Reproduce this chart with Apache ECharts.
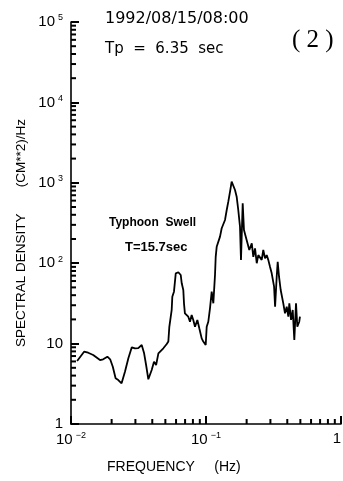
<!DOCTYPE html>
<html>
<head>
<meta charset="utf-8">
<script src="https://cdn.jsdelivr.net/npm/echarts@6/dist/echarts.min.js"></script>
<style>
  html, body { margin: 0; padding: 0; background: #fff; }
  #chart { width: 343px; height: 481px; }
</style>
</head>
<body>
<div id="chart"></div>
<script>
// Wave spectrum: frequency (Hz) and spectral density (cm^2/Hz)
const freq = [
  0.0111, 0.0125, 0.0134, 0.0146, 0.0164, 0.0173, 0.0186, 0.0195, 0.0204, 0.0214,
  0.0224, 0.0237, 0.0251, 0.0266, 0.0282, 0.0298, 0.0315, 0.0334, 0.0348, 0.0360,
  0.0374, 0.0396, 0.0412, 0.0427, 0.0444, 0.0483, 0.0512, 0.0526, 0.0535, 0.0557,
  0.0563, 0.0579, 0.0597, 0.0624, 0.0650, 0.0661, 0.0679, 0.0687, 0.0698, 0.0739,
  0.0761, 0.0783, 0.0805, 0.0829, 0.0863, 0.0892, 0.0929, 0.0955, 0.0995, 0.1012,
  0.1040, 0.1071, 0.1102, 0.1133, 0.1166, 0.1180, 0.1200, 0.1270, 0.1307, 0.1343,
  0.1383, 0.1424, 0.1463, 0.1507, 0.1549, 0.1592, 0.1640, 0.1687, 0.1734, 0.1786,
  0.1816, 0.1870, 0.1911, 0.2000, 0.2093, 0.2183, 0.2241, 0.2308, 0.2376, 0.2440,
  0.2512, 0.2586, 0.2657, 0.2736, 0.2816, 0.2893, 0.2979, 0.3067, 0.3194, 0.3249,
  0.3340, 0.3397, 0.3475, 0.3575, 0.3737, 0.3848, 0.3962, 0.4073, 0.4142, 0.4266,
  0.4389, 0.4511, 0.4642, 0.4747, 0.4906, 0.4966
];
const density = [
  6.08, 7.93, 7.70, 7.21, 6.25, 6.38, 6.87, 6.38, 5.16, 3.70,
  3.52, 3.21, 4.47, 6.56, 9.00, 8.74, 8.80, 9.61, 7.57, 5.42,
  3.60, 4.69, 5.95, 5.42, 7.57, 8.74, 9.89, 10.6, 16.2, 26.2,
  38.3, 44.2, 74.9, 77.1, 71.3, 56.2, 46.4, 31.7, 23.8, 21.6,
  18.7, 22.7, 19.7, 16.2, 19.7, 15.5, 11.6, 10.6, 9.61, 16.2,
  18.7, 27.7, 44.2, 31.7, 71.3, 120, 160, 214, 272, 259,
  345, 459, 582, 775, 1032, 986, 814, 672, 459, 284,
  110, 556, 259, 194, 146, 177, 120, 153, 99.8, 126,
  133, 110, 146, 115, 126, 110, 90.5, 74.9, 51.0, 28.8,
  67.9, 104, 67.9, 46.4, 31.7, 23.8, 28.8, 21.6, 31.7, 19.7,
  26.2, 11.1, 31.7, 16.2, 18.7, 21.6
];

// Axis ranges (one decade per labelled tick)
const xRange = [0.01, 1];
const yRange = [1, 100000];

const FONT = '"Liberation Sans", Arial, sans-serif';

function powerLabel(v) {
  const e = Math.round(Math.log10(v));
  if (e === 0) return '1';
  if (e === 1) return '10';
  const exp = e < 0 ? '\u2212' + (-e) : String(e);
  return '{b|10}{s|' + exp + '}';
}

const richLabel = {
  b: { fontSize: 15, fontFamily: FONT, color: '#000' },
  s: { fontSize: 9, fontFamily: FONT, color: '#000', padding: [0, 0, 8, 3] }
};

function tickStyle() {
  return { show: true, inside: true, length: 8, lineStyle: { color: '#000', width: 2 } };
}

const chart = echarts.init(document.getElementById('chart'));

chart.setOption({
  backgroundColor: '#fff',
  animation: false,
  grid: { left: 71, right: 2, top: 22, bottom: 57, outerBoundsMode: 'none' },
  xAxis: {
    type: 'log',
    logBase: 10,
    min: xRange[0],
    max: xRange[1],
    axisLine: { show: true, lineStyle: { color: '#000', width: 1.6 } },
    axisTick: tickStyle(),
    splitLine: { show: false },
    axisLabel: {
      formatter: powerLabel,
      rich: richLabel,
      fontSize: 15,
      fontFamily: FONT,
      color: '#000',
      margin: 7,
      alignMaxLabel: 'right'
    }
  },
  yAxis: {
    type: 'log',
    logBase: 10,
    min: yRange[0],
    max: yRange[1],
    axisLine: { show: true, lineStyle: { color: '#000', width: 1.6 } },
    axisTick: tickStyle(),
    splitLine: { show: false },
    axisLabel: {
      formatter: powerLabel,
      rich: richLabel,
      fontSize: 15,
      fontFamily: FONT,
      color: '#000',
      margin: 8
    }
  },
  series: [{
    type: 'line',
    data: freq.map((f, i) => [f, density[i]]),
    showSymbol: false,
    lineStyle: { color: '#000', width: 1.8 },
    z: 3
  }]
});

// Minor ticks at 2..9 within each decade, placed through the grid's scales
function minorTicks() {
  const els = [];
  const origin = chart.convertToPixel({ gridIndex: 0 }, [xRange[0], yRange[0]]);
  for (let e = -2; e < 0; e++) {
    for (let k = 2; k <= 9; k++) {
      const p = chart.convertToPixel({ gridIndex: 0 }, [k * Math.pow(10, e), yRange[0]]);
      els.push({ type: 'line', shape: { x1: p[0], y1: origin[1], x2: p[0], y2: origin[1] - 5 },
        style: { stroke: '#000', lineWidth: 2 }, z: 10 });
    }
  }
  for (let e = 0; e < 5; e++) {
    for (let k = 2; k <= 9; k++) {
      const p = chart.convertToPixel({ gridIndex: 0 }, [xRange[0], k * Math.pow(10, e)]);
      els.push({ type: 'line', shape: { x1: origin[0], y1: p[1], x2: origin[0] + 5, y2: p[1] },
        style: { stroke: '#000', lineWidth: 2 }, z: 10 });
    }
  }
  return els;
}

const texts = [
  { type: 'text', left: 105, top: 11, style: { text: '1992/08/15/08:00', font: '16px "DejaVu Sans", sans-serif', fill: '#000' } },
  { type: 'text', left: 105, top: 42, style: { text: 'Tp  =  6.35  sec', font: '15px "DejaVu Sans", sans-serif', fill: '#000' } },
  { type: 'text', left: 292, top: 28, style: { text: '( 2 )', font: '25px "Liberation Serif", serif', fill: '#000' } },
  { type: 'text', left: 109, top: 217, style: { text: 'Typhoon  Swell', font: 'bold 12px "Liberation Sans", Arial, sans-serif', fill: '#000' } },
  { type: 'text', left: 125, top: 241, style: { text: 'T=15.7sec', font: 'bold 13px "Liberation Sans", Arial, sans-serif', fill: '#000' } },
  { type: 'text', left: 107, top: 460, style: { text: 'FREQUENCY     (Hz)', font: '14px "Liberation Sans", Arial, sans-serif', fill: '#000' } },
  { type: 'text', x: 21, y: 233, rotation: Math.PI / 2,
    style: { text: 'SPECTRAL DENSITY       (CM**2)/Hz', font: '13.5px "Liberation Sans", Arial, sans-serif',
      fill: '#000', align: 'center', verticalAlign: 'middle' } }
];

chart.setOption({ graphic: { elements: minorTicks().concat(texts) } });
</script>
</body>
</html>
